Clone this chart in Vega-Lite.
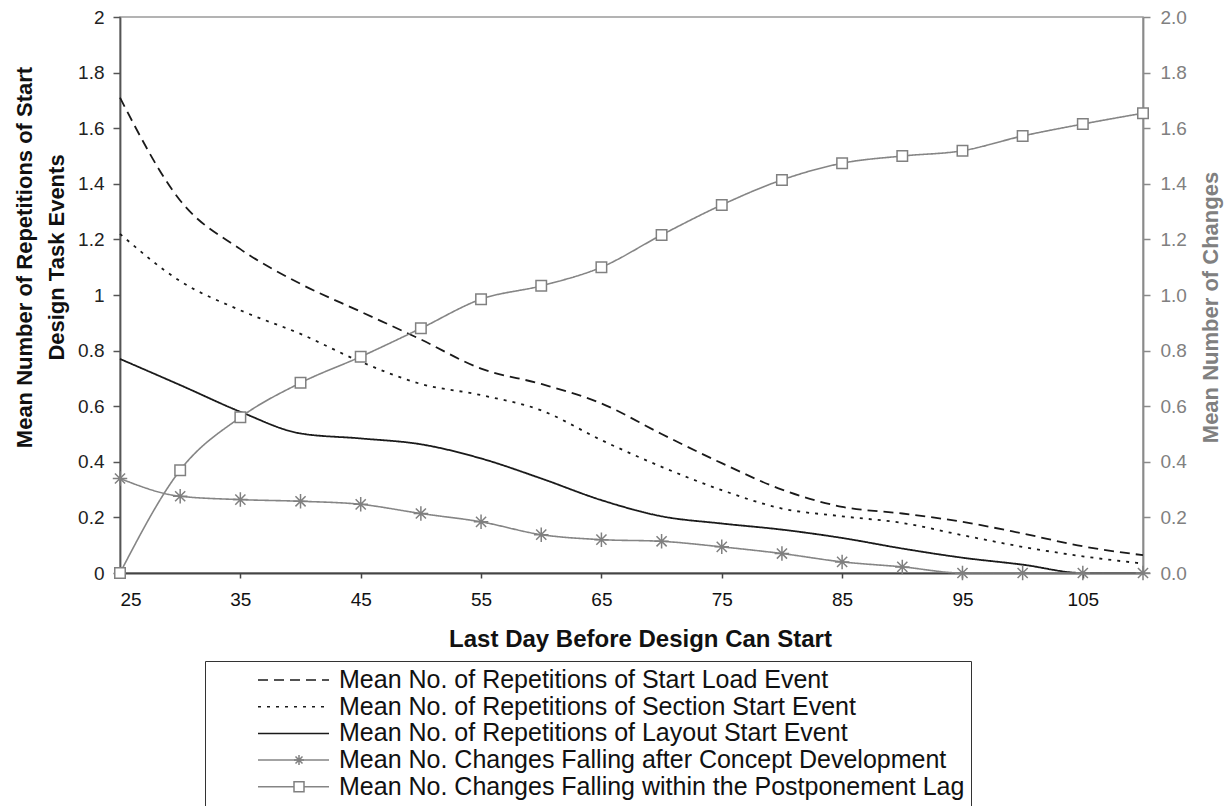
{
  "$schema": "https://vega.github.io/schema/vega-lite/v6.json",
  "width": 1023,
  "height": 556,
  "autosize": {"type": "none"},
  "padding": {"left": 120, "top": 17, "right": 88, "bottom": 233},
  "background": "white",
  "config": {
    "font": "Liberation Sans",
    "view": {"stroke": "#9a9a9a", "strokeWidth": 1.5},
    "axis": {"grid": false}
  },
  "data": {"values": [
    {"day":25,"series":"SL","value":1.71},{"day":30,"series":"SL","value":1.34},{"day":35,"series":"SL","value":1.165},{"day":40,"series":"SL","value":1.04},{"day":45,"series":"SL","value":0.94},{"day":50,"series":"SL","value":0.84},{"day":55,"series":"SL","value":0.735},{"day":60,"series":"SL","value":0.68},{"day":65,"series":"SL","value":0.61},{"day":70,"series":"SL","value":0.5},{"day":75,"series":"SL","value":0.395},{"day":80,"series":"SL","value":0.3},{"day":85,"series":"SL","value":0.238},{"day":90,"series":"SL","value":0.214},{"day":95,"series":"SL","value":0.184},{"day":100,"series":"SL","value":0.142},{"day":105,"series":"SL","value":0.096},{"day":110,"series":"SL","value":0.064},
    {"day":25,"series":"SS","value":1.22},{"day":30,"series":"SS","value":1.05},{"day":35,"series":"SS","value":0.945},{"day":40,"series":"SS","value":0.86},{"day":45,"series":"SS","value":0.76},{"day":50,"series":"SS","value":0.68},{"day":55,"series":"SS","value":0.64},{"day":60,"series":"SS","value":0.585},{"day":65,"series":"SS","value":0.478},{"day":70,"series":"SS","value":0.382},{"day":75,"series":"SS","value":0.298},{"day":80,"series":"SS","value":0.232},{"day":85,"series":"SS","value":0.204},{"day":90,"series":"SS","value":0.18},{"day":95,"series":"SS","value":0.136},{"day":100,"series":"SS","value":0.094},{"day":105,"series":"SS","value":0.06},{"day":110,"series":"SS","value":0.034},
    {"day":25,"series":"LS","value":0.77},{"day":30,"series":"LS","value":0.676},{"day":35,"series":"LS","value":0.58},{"day":40,"series":"LS","value":0.502},{"day":45,"series":"LS","value":0.484},{"day":50,"series":"LS","value":0.463},{"day":55,"series":"LS","value":0.412},{"day":60,"series":"LS","value":0.34},{"day":65,"series":"LS","value":0.262},{"day":70,"series":"LS","value":0.204},{"day":75,"series":"LS","value":0.178},{"day":80,"series":"LS","value":0.156},{"day":85,"series":"LS","value":0.126},{"day":90,"series":"LS","value":0.088},{"day":95,"series":"LS","value":0.055},{"day":100,"series":"LS","value":0.03},{"day":105,"series":"LS","value":0},{"day":110,"series":"LS","value":0},
    {"day":25,"series":"AC","value":0.34},{"day":30,"series":"AC","value":0.276},{"day":35,"series":"AC","value":0.264},{"day":40,"series":"AC","value":0.258},{"day":45,"series":"AC","value":0.247},{"day":50,"series":"AC","value":0.214},{"day":55,"series":"AC","value":0.184},{"day":60,"series":"AC","value":0.138},{"day":65,"series":"AC","value":0.12},{"day":70,"series":"AC","value":0.114},{"day":75,"series":"AC","value":0.094},{"day":80,"series":"AC","value":0.07},{"day":85,"series":"AC","value":0.04},{"day":90,"series":"AC","value":0.022},{"day":95,"series":"AC","value":0},{"day":100,"series":"AC","value":0},{"day":105,"series":"AC","value":0},{"day":110,"series":"AC","value":0},
    {"day":25,"series":"PL","value":0},{"day":30,"series":"PL","value":0.37},{"day":35,"series":"PL","value":0.56},{"day":40,"series":"PL","value":0.684},{"day":45,"series":"PL","value":0.778},{"day":50,"series":"PL","value":0.88},{"day":55,"series":"PL","value":0.985},{"day":60,"series":"PL","value":1.033},{"day":65,"series":"PL","value":1.1},{"day":70,"series":"PL","value":1.216},{"day":75,"series":"PL","value":1.324},{"day":80,"series":"PL","value":1.414},{"day":85,"series":"PL","value":1.474},{"day":90,"series":"PL","value":1.5},{"day":95,"series":"PL","value":1.519},{"day":100,"series":"PL","value":1.572},{"day":105,"series":"PL","value":1.615},{"day":110,"series":"PL","value":1.654}
  ]},
  "encoding": {
    "x": {
      "field": "day", "type": "quantitative",
      "scale": {"domain": [25, 110], "nice": false, "zero": false},
      "axis": {
        "values": [25, 35, 45, 55, 65, 75, 85, 95, 105],
        "format": "d",
        "labelFontSize": 19, "labelColor": "#111", "labelPadding": 12,
        "tickSize": 5, "tickColor": "#444", "tickWidth": 1.5,
        "domainColor": "#444", "domainWidth": 1.8,
        "title": "Last Day Before Design Can Start",
        "titleFontSize": 24, "titleFontWeight": "bold", "titleColor": "#111",
        "titleX": 520, "titleY": 66, "titleAlign": "center", "titleBaseline": "middle"
      }
    }
  },
  "layer": [
    {
      "transform": [{"filter": {"field": "series", "oneOf": ["SL", "SS", "LS"]}}],
      "mark": {"type": "line", "interpolate": "monotone", "strokeWidth": 1.8},
      "encoding": {
        "y": {
          "field": "value", "type": "quantitative",
          "scale": {"domain": [0, 2], "nice": false},
          "axis": {
            "orient": "left",
            "values": [0, 0.2, 0.4, 0.6, 0.8, 1, 1.2, 1.4, 1.6, 1.8, 2],
            "format": ".1~f",
            "labelFontSize": 19, "labelColor": "#222", "labelPadding": 9,
            "tickSize": 7, "tickColor": "#555", "tickWidth": 1.5,
            "domainColor": "#555", "domainWidth": 1.8,
            "title": ["Mean Number of Repetitions of Start", "Design Task Events"],
            "titleFontSize": 22, "titleFontWeight": "bold", "titleColor": "#111",
            "titleAngle": 270, "titleX": -96, "titleY": 240,
            "titleAlign": "center", "titleBaseline": "middle", "titleLineHeight": 32
          }
        },
        "color": {
          "field": "series", "type": "nominal",
          "scale": {"domain": ["SL", "SS", "LS", "AC", "PL"], "range": ["#1a1a1a", "#1a1a1a", "#1a1a1a", "#858585", "#858585"]},
          "legend": {
            "title": null, "orient": "none", "legendX": 85, "legendY": 644,
            "direction": "vertical",
            "symbolType": "stroke", "symbolSize": 5041, "symbolStrokeWidth": 1.5, "symbolOffset": 46,
            "clipHeight": 26,
            "labelFontSize": 25, "labelColor": "#111", "labelOffset": 9, "labelLimit": 1000,
            "labelExpr": "{'SL':'Mean No. of Repetitions of Start Load Event','SS':'Mean No. of Repetitions of Section Start Event','LS':'Mean No. of Repetitions of Layout Start Event','AC':'Mean No. Changes Falling after Concept Development','PL':'Mean No. Changes Falling within the Postponement Lag'}[datum.label]",
            "strokeColor": "#333", "padding": 6, "rowPadding": 0.7
          }
        },
        "strokeDash": {
          "field": "series", "type": "nominal",
          "scale": {"domain": ["SL", "SS", "LS", "AC", "PL"], "range": [[10, 6], [3, 6], [1, 0], [1, 0], [1, 0]]},
          "legend": {
            "title": null, "orient": "none", "legendX": 85, "legendY": 644,
            "direction": "vertical",
            "symbolType": "stroke", "symbolSize": 5041, "symbolStrokeWidth": 1.5, "symbolOffset": 46,
            "clipHeight": 26,
            "labelFontSize": 25, "labelColor": "#111", "labelOffset": 9, "labelLimit": 1000,
            "labelExpr": "{'SL':'Mean No. of Repetitions of Start Load Event','SS':'Mean No. of Repetitions of Section Start Event','LS':'Mean No. of Repetitions of Layout Start Event','AC':'Mean No. Changes Falling after Concept Development','PL':'Mean No. Changes Falling within the Postponement Lag'}[datum.label]",
            "strokeColor": "#333", "padding": 6, "rowPadding": 0.7
          }
        }
      }
    },
    {
      "encoding": {
        "y": {
          "field": "value", "type": "quantitative",
          "scale": {"domain": [0, 2], "nice": false},
          "axis": {
            "orient": "right",
            "values": [0, 0.2, 0.4, 0.6, 0.8, 1, 1.2, 1.4, 1.6, 1.8, 2],
            "format": ".1f",
            "labelFontSize": 19, "labelColor": "#808080", "labelPadding": 10,
            "tickSize": 7, "tickColor": "#8a8a8a", "tickWidth": 1.5,
            "domainColor": "#8a8a8a", "domainWidth": 1.8,
            "title": "Mean Number of Changes",
            "titleFontSize": 22, "titleFontWeight": "bold", "titleColor": "#808080",
            "titleAngle": 270, "titleX": 67, "titleY": 290,
            "titleAlign": "center", "titleBaseline": "middle"
          }
        }
      },
      "layer": [
        {
          "transform": [{"filter": {"field": "series", "oneOf": ["AC", "PL"]}}],
          "mark": {"type": "line", "interpolate": "monotone", "strokeWidth": 1.6},
          "encoding": {
            "color": {"field": "series", "type": "nominal"},
            "strokeDash": {"field": "series", "type": "nominal"}
          }
        },
        {
          "transform": [{"filter": "datum.series == 'AC'"}],
          "mark": {"type": "point", "filled": false, "color": "#808080", "fill": "white", "strokeWidth": 1.5, "opacity": 1, "size": 210},
          "encoding": {
            "shape": {
              "field": "series", "type": "nominal",
              "scale": {"domain": ["AC", "PL"], "range": ["M-1,0L1,0M0,-1L0,1M-0.7,-0.7L0.7,0.7M-0.7,0.7L0.7,-0.7", "square"]},
              "legend": {
                "title": null, "orient": "none", "legendX": 85, "legendY": 730,
                "direction": "vertical",
                "symbolSize": 100, "symbolStrokeWidth": 1.5, "symbolOffset": 81.5,
                "clipHeight": 26, "padding": 0, "rowPadding": 0.7,
                "labelExpr": "''", "labelFontSize": 25
              }
            }
          }
        },
        {
          "transform": [{"filter": "datum.series == 'PL'"}],
          "mark": {"type": "point", "filled": false, "color": "#808080", "fill": "white", "strokeWidth": 1.5, "opacity": 1, "size": 110},
          "encoding": {
            "shape": {"field": "series", "type": "nominal"}
          }
        }
      ]
    }
  ],
  "resolve": {"scale": {"y": "independent"}}
}
